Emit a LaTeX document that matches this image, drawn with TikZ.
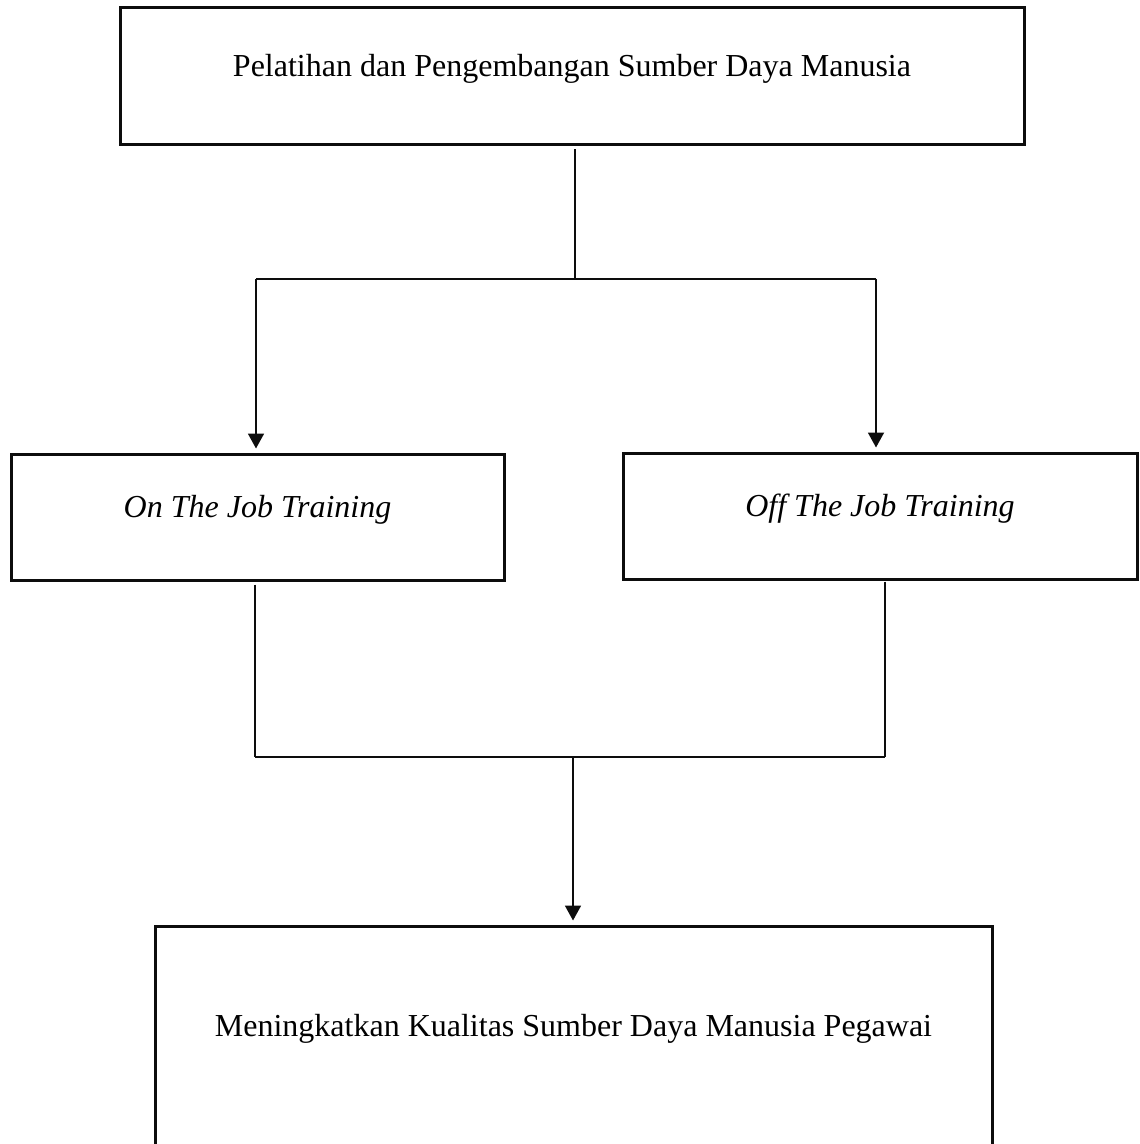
\documentclass[tikz,border=0pt]{standalone}
\usepackage{fontspec}
\setmainfont{Liberation Serif}
\usetikzlibrary{arrows.meta}
\definecolor{ink}{gray}{0.05}

\begin{document}
\begin{tikzpicture}[x=0.5pt, y=-0.5pt, font=\fontsize{16}{19}\selectfont,
  box/.style={draw=ink, line width=1.5pt, inner sep=0pt, text height=12pt, text depth=12pt},
  link/.style={draw=ink, line width=0.9pt},
  flow/.style={link, -{Triangle[length=7.5pt, width=8pt]}, shorten >=2pt}]
  \useasboundingbox (0,0) rectangle (1139,1144);
  \node[box, minimum width=452pt, minimum height=68.5pt] (pelatihan) at (572,76.5) {Pelatihan dan Pengembangan Sumber Daya Manusia};
  \node[box, minimum width=246.5pt, minimum height=63pt] (ojt) at (257.5,517) {\itshape On The Job Training};
  \node[box, minimum width=257pt, minimum height=63pt] (offjt) at (880,516) {\itshape Off The Job Training};
  \node[box, minimum width=418.5pt, minimum height=110pt] (kualitas) at (573.5,1036) {Meningkatkan Kualitas Sumber Daya Manusia Pegawai};
  \coordinate (cabang) at (575,279);
  \coordinate (cabangl) at (256,279);
  \coordinate (cabangr) at (876,279);
  \coordinate (gabungl) at (255,757);
  \coordinate (gabungr) at (885,757);
  \coordinate (gabung) at (573,757);
  \draw[link] ([yshift=-1.5pt]pelatihan.south -| cabang) -- (cabang);
  \draw[link] (cabangl) -- (cabangr);
  \foreach \c/\n in {cabangl/ojt, cabangr/offjt}
    \draw[flow] (\c) -- (\c |- \n.north);
  \draw[link] ([yshift=-1.5pt]ojt.south -| gabungl) -- (gabungl);
  \draw[link] ([yshift=-0.5pt]offjt.south -| gabungr) -- (gabungr);
  \draw[link] (gabungl) -- (gabungr);
  \draw[flow] (gabung) -- (gabung |- kualitas.north);
\end{tikzpicture}
\end{document}
